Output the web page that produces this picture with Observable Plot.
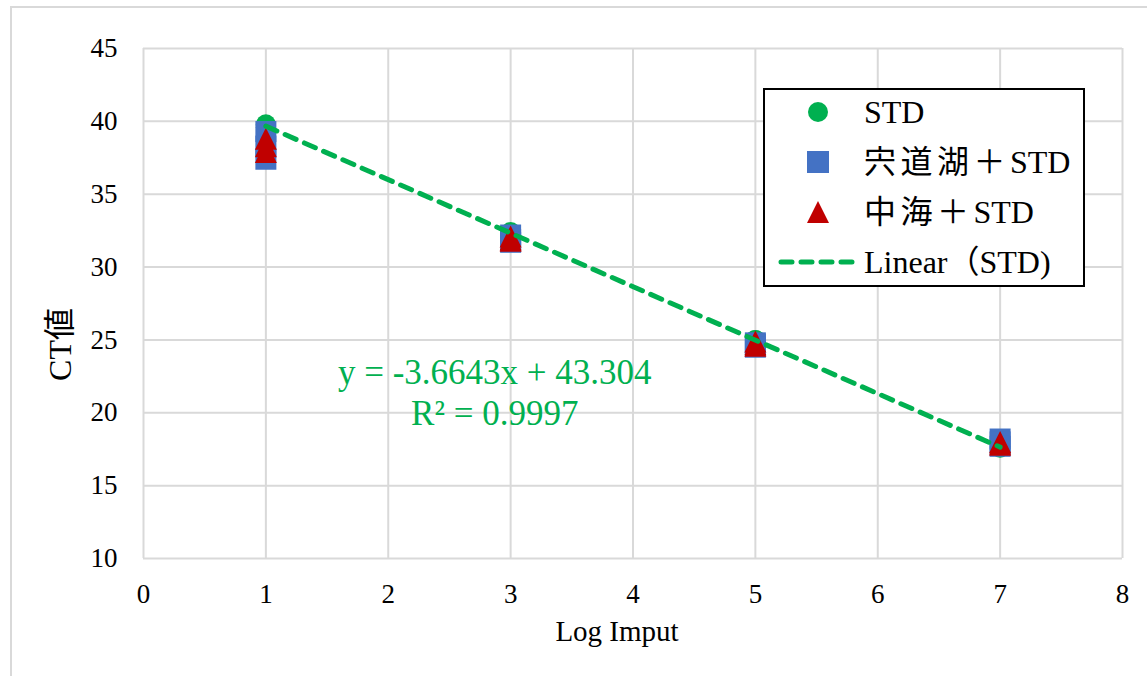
<!DOCTYPE html>
<html>
<head>
<meta charset="utf-8">
<script src="https://cdn.jsdelivr.net/npm/d3@7"></script>
<script src="https://cdn.jsdelivr.net/npm/@observablehq/plot@0.6"></script>
<style>
  html, body { margin: 0; padding: 0; background: #fff; overflow: hidden; }
  #wrap { position: relative; width: 1147px; height: 676px; overflow: hidden; }
  #outer { position: absolute; left: 10px; top: 6px; width: 1200px; height: 720px; border: 2px solid #d9d9d9; box-sizing: border-box; }
  #wrap svg { position: absolute; left: 0; top: 0; }
</style>
</head>
<body>
<div id="wrap"><div id="outer"></div></div>
<script>
// ---- data ----
const xTicks = [0, 1, 2, 3, 4, 5, 6, 7, 8];
const yTicks = [10, 15, 20, 25, 30, 35, 40, 45];

const stdX = [1, 1, 1, 3, 3, 3, 5, 5, 5, 7, 7, 7];
const stdY = [39.8, 39.7, 39.6, 32.4, 32.3, 32.2, 25.0, 24.9, 25.0, 17.7, 17.6, 17.7];

const shinjiX = [1, 1, 1, 3, 3, 3, 5, 5, 5, 7, 7, 7];
const shinjiY = [39.3, 38.3, 37.4, 32.2, 31.9, 31.7, 24.8, 24.7, 24.5, 18.2, 18.0, 17.7];

const nakaumiX = [1, 1, 1, 3, 3, 3, 5, 5, 5, 7, 7, 7];
const nakaumiY = [38.8, 38.3, 37.9, 32.1, 31.9, 31.8, 24.9, 24.7, 24.6, 18.0, 17.9, 17.8];

const seriesNames = ["STD", "宍道湖＋STD", "中海＋STD", "Linear（STD)"];
const equationLines = ["y = -3.6643x + 43.304", "R² = 0.9997"];
const xLabel = "Log Imput";
const yLabel = "CT値";

// ---- styles ----
const GREEN = "#00B050", BLUE = "#4472C4", RED = "#C00000", GRID = "#d9d9d9";
const FONT = "'Liberation Serif', 'Times New Roman', 'Noto Sans CJK JP', serif";

const squareSym = { draw(ctx, size) { const r = Math.sqrt(size / Math.PI); ctx.rect(-r, -r, 2 * r, 2 * r); } };
const triSym = { draw(ctx, size) { const r = Math.sqrt(size / Math.PI); ctx.moveTo(0, -r); ctx.lineTo(r, r); ctx.lineTo(-r, r); ctx.closePath(); } };

const idx = a => d3.range(a.length);

const chart = Plot.plot({
  width: 1147,
  height: 676,
  marginLeft: 143,
  marginRight: 25,
  marginTop: 48,
  marginBottom: 118,
  style: { fontFamily: FONT, fontSize: "27px", color: "#000", background: "transparent" },
  x: { domain: [0, 8], ticks: xTicks, tickSize: 0, tickPadding: 25, label: null },
  y: { domain: [10, 45], ticks: yTicks, tickSize: 0, tickPadding: 26, label: null },
  marks: [
    Plot.gridX(xTicks, { stroke: GRID, strokeOpacity: 1, strokeWidth: 2 }),
    Plot.gridY(yTicks, { stroke: GRID, strokeOpacity: 1, strokeWidth: 2 }),
    Plot.axisX({ ticks: xTicks, tickSize: 0, tickPadding: 25, fontSize: 27, label: null }),
    Plot.axisY({ ticks: yTicks, tickSize: 0, tickPadding: 26, fontSize: 27, label: null }),
    Plot.dot(idx(stdX), { x: stdX, y: stdY, r: 10, symbol: "circle", fill: GREEN, stroke: "none" }),
    Plot.dot(idx(shinjiX), { x: shinjiX, y: shinjiY, r: 10.5, symbol: squareSym, fill: BLUE, stroke: "none" }),
    Plot.dot(idx(nakaumiX), { x: nakaumiX, y: nakaumiY, r: 11, symbol: triSym, fill: RED, stroke: "none" }),
    Plot.linearRegressionY(idx(stdX), { x: stdX, y: stdY, ci: 0, stroke: GREEN, strokeWidth: 5, strokeDasharray: "12,9", strokeLinecap: "round" }),
    Plot.text([equationLines[0]], { x: 2.87, y: 22.76, text: d => d, fill: GREEN, fontSize: 35, textAnchor: "middle", lineAnchor: "middle" }),
    Plot.text([equationLines[1]], { x: 2.87, y: 19.95, text: d => d, fill: GREEN, fontSize: 35, textAnchor: "middle", lineAnchor: "middle" }),
    Plot.text([xLabel], { frameAnchor: "bottom", text: d => d, dx: -16, dy: 73, fontSize: 29, fill: "#000", lineAnchor: "middle" }),
    Plot.text([yLabel], { frameAnchor: "left", text: d => d, dx: -83, dy: 41, rotate: -90, fontSize: 32, fill: "#000", lineAnchor: "middle", textAnchor: "middle" })
  ]
});
document.getElementById("wrap").appendChild(chart);

// ---- legend (overlay) ----
const lg = d3.select("#wrap").append("svg")
  .attr("width", 1147).attr("height", 676)
  .style("pointer-events", "none");
lg.append("rect").attr("x", 764).attr("y", 89).attr("width", 320).attr("height", 197)
  .attr("fill", "#fff").attr("stroke", "#000").attr("stroke-width", 2);
const rowY = [112, 162, 212, 262];
const mx = 818;
lg.append("circle").attr("cx", mx).attr("cy", rowY[0]).attr("r", 10).attr("fill", GREEN);
lg.append("rect").attr("x", mx - 11).attr("y", rowY[1] - 11).attr("width", 22).attr("height", 22).attr("fill", BLUE);
lg.append("path").attr("d", `M${mx},${rowY[2] - 11}L${mx + 11},${rowY[2] + 11}L${mx - 11},${rowY[2] + 11}Z`).attr("fill", RED);
lg.append("line").attr("x1", 781).attr("x2", 855).attr("y1", rowY[3]).attr("y2", rowY[3])
  .attr("stroke", GREEN).attr("stroke-width", 5).attr("stroke-dasharray", "11,9").attr("stroke-linecap", "round");
const cjk = /[\u3000-\u9fff\uff00-\uffef]/;
seriesNames.forEach((s, i) => {
  const t = lg.append("text").attr("x", 864).attr("y", rowY[i]).attr("dy", "0.35em")
    .attr("font-family", FONT).attr("font-size", 32).attr("fill", "#000");
  // split into runs of CJK / non-CJK characters; CJK runs get wider spacing like the reference's Mincho font
  const runs = [];
  for (const ch of s) {
    const c = cjk.test(ch) && ch !== "（";
    if (runs.length && runs[runs.length - 1].c === c) runs[runs.length - 1].t += ch;
    else runs.push({ c, t: ch });
  }
  runs.forEach(r => {
    const ts = t.append("tspan").text(r.t);
    if (r.c) ts.attr("letter-spacing", "4.5px");
  });
});
</script>
</body>
</html>
